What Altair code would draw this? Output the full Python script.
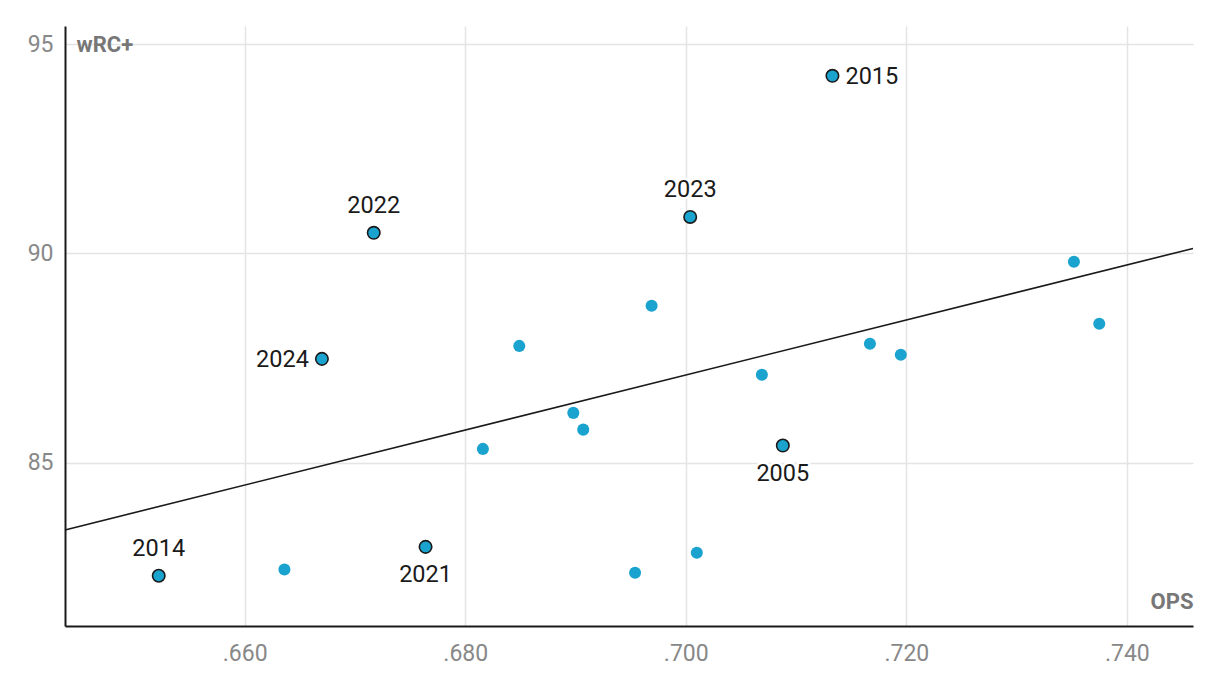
import altair as alt
import pandas as pd

ops = [.7133, .7004, .6717, .6670, .7088, .6764, .6522,
       .6636, .6816, .6849, .6898, .6907, .6954, .6969, .7010, .7069, .7167, .7195, .7352, .7375]
wrc = [94.24, 90.87, 90.49, 87.48, 85.41, 82.99, 82.30,
       82.45, 85.33, 87.79, 86.19, 85.79, 82.37, 88.75, 82.85, 87.10, 87.84, 87.58, 89.80, 88.32]
labels = ["2015", "2023", "2022", "2024", "2005", "2021", "2014",
          "", "", "", "", "", "", "", "", "", "", "", "", ""]

# label placement per season
place = {"2015": "right", "2023": "above", "2022": "above", "2024": "left",
         "2005": "below", "2021": "below", "2014": "above"}

df = pd.DataFrame({"ops": ops, "wrc": wrc, "label": labels})
df["hl"] = df["label"] != ""

X_DOM = [0.6437, 0.746]
Y_DOM = [81.1, 95.43]
COLOR = "#1aa3cf"
FONT = "Roboto"

x = alt.X("ops:Q", scale=alt.Scale(domain=X_DOM, nice=False, zero=False),
          axis=alt.Axis(values=[.66, .68, .70, .72, .74],
                        labelExpr="replace(format(datum.value, '.3f'), '0.', '.')",
                        title="OPS", titleX=1128, titleY=-25, titleAlign="right",
                        titleBaseline="middle", titleFontSize=22, titleFontWeight="bold",
                        titleColor="#777777", titleFont=FONT,
                        labelFont=FONT, labelFontSize=23, labelColor="#888888",
                        labelPadding=16, ticks=False, domainColor="#1a1a1a", domainWidth=2,
                        gridColor="#e4e4e4", gridWidth=1.5))
y = alt.Y("wrc:Q", scale=alt.Scale(domain=Y_DOM, nice=False, zero=False),
          axis=alt.Axis(values=[85, 90, 95], title="wRC+", titleAngle=0,
                        titleX=11, titleY=18, titleAlign="left", titleBaseline="middle",
                        titleFontSize=22, titleFontWeight="bold", titleColor="#777777",
                        titleFont=FONT, labelFont=FONT, labelFontSize=23, labelColor="#888888",
                        labelPadding=12, ticks=False, domainColor="#1a1a1a", domainWidth=2,
                        gridColor="#e4e4e4", gridWidth=1.5))

base = alt.Chart(df)

reg = base.transform_regression("ops", "wrc", extent=X_DOM).mark_line(
    color="#1a1a1a", strokeWidth=1.6).encode(x=x, y=y)

plain = base.transform_filter("!datum.hl").mark_circle(
    size=145, color=COLOR, opacity=1).encode(x=x, y=y)

hl = base.transform_filter("datum.hl").mark_point(
    filled=True, shape="circle", size=155, fill=COLOR, stroke="#1a1a1a",
    strokeWidth=1.6, opacity=1).encode(x=x, y=y)

offsets = {"right": dict(dx=13, dy=1, align="left", baseline="middle"),
           "left": dict(dx=-13, dy=1, align="right", baseline="middle"),
           "above": dict(dx=0, dy=-27, align="center", baseline="middle"),
           "below": dict(dx=0, dy=28, align="center", baseline="middle")}

text_layers = []
for pos, opt in offsets.items():
    yrs = [k for k, v in place.items() if v == pos]
    filt = alt.FieldOneOfPredicate(field="label", oneOf=yrs)
    halo = base.transform_filter(filt).mark_text(
        font=FONT, fontSize=23.5, color="white", stroke="white", strokeWidth=5,
        **opt).encode(x=x, y=y, text="label:N")
    txt = base.transform_filter(filt).mark_text(
        font=FONT, fontSize=23.5, color="#1a1a1a", **opt).encode(x=x, y=y, text="label:N")
    text_layers += [halo, txt]

chart = alt.layer(reg, plain, hl, *text_layers).properties(
    width=1128, height=600,
    autosize=alt.AutoSizeParams(type="none"),
    padding={"left": 65, "top": 26, "right": 27, "bottom": 66},
    background="white",
).configure_view(stroke=None)

chart.save("out.html", embed_options={"renderer": "svg", "actions": False})
